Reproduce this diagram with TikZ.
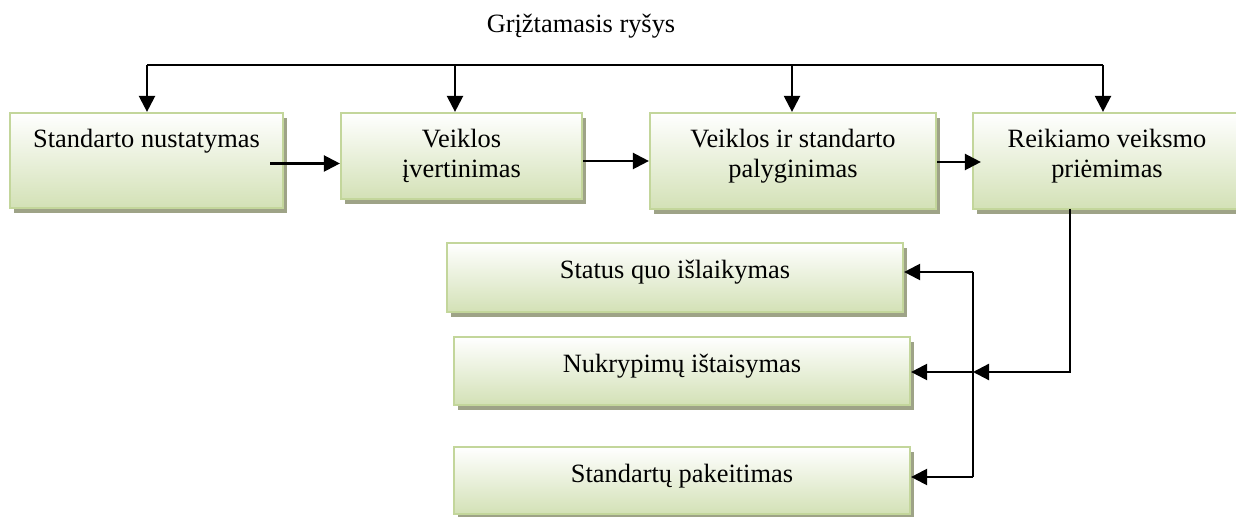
\documentclass[tikz,border=0pt]{standalone}
\usepackage{fontspec}
\setmainfont{Liberation Serif}
\usetikzlibrary{arrows.meta,shadows}
\definecolor{boxedge}{HTML}{C3D69B}
\definecolor{boxlow}{HTML}{D3E1B6}
\definecolor{shade}{HTML}{9EA387}
\tikzset{
  stagebox/.style={draw=boxedge, line width=1.1pt, top color=white, bottom color=boxlow,
    drop shadow={shadow xshift=2pt, shadow yshift=-2.5pt, fill=shade, opacity=1},
    inner sep=0pt},
  lbl/.style={inner sep=0pt, align=center, font=\fontsize{13.2}{15.15}\selectfont},
  wire/.style={line width=1.15pt, black},
  arr/.style={wire, -{Triangle[length=8pt,width=8pt]}}
}
\begin{document}
\begin{tikzpicture}[x=0.5pt,y=-0.5pt]
\useasboundingbox (0,0) rectangle (1236,517);

% upper row of stages
\node[stagebox, minimum width=136.5pt, minimum height=47.5pt] (b1) at (146.5,160.5) {};
\node[stagebox, minimum width=120.5pt, minimum height=43pt] (b2) at (461.5,156) {};
\node[stagebox, minimum width=143pt, minimum height=48pt] (b3) at (793,161) {};
\node[stagebox, minimum width=134pt, minimum height=48pt] (b4) at (1107,161) {};

% possible actions
\node[stagebox, minimum width=228pt, minimum height=34.5pt] (s1) at (675,277.5) {};
\node[stagebox, minimum width=228pt, minimum height=34pt] (s2) at (682,371) {};
\node[stagebox, minimum width=228pt, minimum height=33.5pt] (s3) at (682,480.5) {};

% texts
\node[lbl, anchor=north] (t1) at ([yshift=-8.5pt]b1.north) {Standarto nustatymas};
\node[lbl, anchor=north] (t2) at ([yshift=-8.5pt]b2.north) {Veiklos\\įvertinimas};
\node[lbl, anchor=north] (t3) at ([yshift=-8.5pt]b3.north) {Veiklos ir standarto\\palyginimas};
\node[lbl, anchor=north] (t4) at ([yshift=-8.5pt]b4.north) {Reikiamo veiksmo\\priėmimas};
\node[lbl, anchor=north] (u1) at ([yshift=-9pt]s1.north) {Status quo išlaikymas};
\node[lbl, anchor=north] (u2) at ([yshift=-9pt]s2.north) {Nukrypimų ištaisymas};
\node[lbl, anchor=north] (u3) at ([yshift=-9pt]s3.north) {Standartų pakeitimas};
\node[lbl, anchor=base] (fb) at (581,33) {Grįžtamasis ryšys};

% feedback line
\coordinate (k1) at (147,65);
\coordinate (k2) at (455,65);
\coordinate (k3) at (792,65);
\coordinate (k4) at (1103,65);
\draw[wire] (k1) -- (k4);
\draw[arr] (k1) -- (k1 |- b1.north);
\draw[arr] (k2) -- (k2 |- b2.north);
\draw[arr] (k3) -- (k3 |- b3.north);
\draw[arr] (k4) -- (k4 |- b4.north);

% flow between stages
\draw[arr] ([xshift=-7pt,yshift=-1.5pt]b1.east) -- ([yshift=-1.5pt]b1.east -| b2.west);
\draw[arr] ([yshift=-2.5pt]b2.east) -- ([yshift=-2.5pt]b2.east -| b3.west);
\draw[arr] ([yshift=-0.5pt]b3.east) -- ([xshift=4.5pt,yshift=-0.5pt]b3.east -| b4.west);

% branching to the actions
\coordinate (d1) at (1070,209);
\coordinate (bus) at (973,372);
\coordinate (busT) at (973,272);
\coordinate (busB) at (973,477);
\draw[arr] (d1) |- (bus);
\draw[wire] (busT) -- (busB);
\draw[arr] (busT) -- (busT -| s1.east);
\draw[arr] (bus) -- (bus -| s2.east);
\draw[arr] (busB) -- (busB -| s3.east);
\end{tikzpicture}
\end{document}
